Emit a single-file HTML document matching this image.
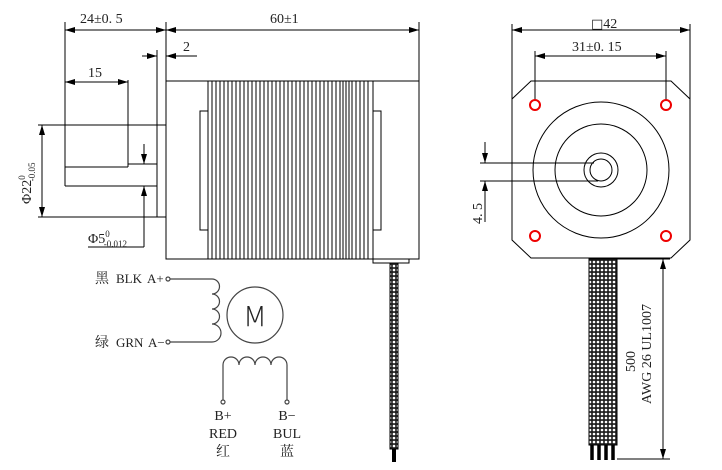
<!DOCTYPE html>
<html><head><meta charset="utf-8"><style>
body{margin:0;background:#fff}
svg{display:block}
text{font-family:"Liberation Serif","Noto Serif CJK SC",serif;font-size:14px;fill:#222}
</style></head><body>
<svg width="722" height="470" viewBox="0 0 722 470" xmlns="http://www.w3.org/2000/svg">
<defs>
<marker id="a" markerWidth="10" markerHeight="6" refX="10" refY="3" orient="auto-start-reverse" markerUnits="userSpaceOnUse"><path d="M0,0L10,3L0,6z" fill="#000"/></marker>
<pattern id="braid" width="4" height="4" patternUnits="userSpaceOnUse"><rect width="4" height="4" fill="#222"/><circle cx="2" cy="2" r="1.3" fill="#fff"/></pattern>
</defs>
<g stroke="#000" stroke-width="1" fill="none">
<line x1="65" y1="22" x2="65" y2="186"/>
<line x1="166" y1="22" x2="166" y2="259"/>
<line x1="419" y1="22" x2="419" y2="259"/>
<line x1="65" y1="30" x2="166" y2="30" marker-start="url(#a)" marker-end="url(#a)"/>
<line x1="166" y1="30" x2="419" y2="30" marker-start="url(#a)" marker-end="url(#a)"/>
<line x1="157" y1="50" x2="157" y2="217"/>
<line x1="142" y1="56" x2="157" y2="56" marker-end="url(#a)"/>
<line x1="197" y1="56" x2="166" y2="56" marker-end="url(#a)"/>
<line x1="65" y1="82" x2="128" y2="82" marker-start="url(#a)" marker-end="url(#a)"/>
<line x1="128" y1="80" x2="128" y2="167"/>
<line x1="65" y1="167" x2="128" y2="167"/>
<line x1="128" y1="164" x2="157" y2="164"/>
<line x1="65" y1="186" x2="157" y2="186"/>
<line x1="38" y1="125" x2="166" y2="125"/>
<line x1="38" y1="217" x2="166" y2="217"/>
<line x1="42" y1="125" x2="42" y2="217" marker-start="url(#a)" marker-end="url(#a)"/>
<line x1="144" y1="144" x2="144" y2="164" marker-end="url(#a)"/>
<line x1="144" y1="247" x2="144" y2="186" marker-end="url(#a)"/>
<line x1="88" y1="247" x2="144" y2="247"/>
<rect x="166" y="81" width="253" height="178"/>
<rect x="200" y="111" width="8" height="119"/>
<rect x="373" y="111" width="8" height="119"/>
<path d="M208,81V259M212,81V259M216,81V259M220,81V259M224,81V259M228,81V259M232,81V259M236,81V259M240,81V259M244,81V259M248,81V259M252,81V259M256,81V259M260,81V259M264,81V259M268,81V259M272,81V259M276,81V259M280,81V259M284,81V259M288,81V259M292,81V259M296,81V259M300,81V259M304,81V259M308,81V259M312,81V259M316,81V259M320,81V259M324,81V259M328,81V259M332,81V259M336,81V259M340,81V259M343,81V259M346,81V259M349,81V259M352,81V259M356,81V259M360,81V259M364,81V259M368,81V259M373,81V259"/>
<rect x="373" y="259" width="36" height="4"/>
</g>
<rect x="390" y="263" width="8" height="186" fill="url(#braid)" stroke="#000"/>
<rect x="392" y="449" width="4" height="13" fill="#000"/>
<text x="80" y="23">24±0. 5</text>
<text x="270" y="23">60±1</text>
<text x="183" y="51">2</text>
<text x="88" y="77">15</text>
<text transform="translate(31,204) rotate(-90)">Φ22<tspan style="font-size:9px" dy="-6">0</tspan><tspan style="font-size:9px" dx="-6" dy="10">-0.05</tspan></text>
<text x="88" y="243">Φ5<tspan style="font-size:9px" dy="-6">0</tspan><tspan style="font-size:9px" dx="-6" dy="10">-0.012</tspan></text>
<g stroke="#000" stroke-width="1" fill="none">
<line x1="512" y1="24" x2="512" y2="99"/>
<line x1="690" y1="24" x2="690" y2="99"/>
<line x1="512" y1="30" x2="690" y2="30" marker-start="url(#a)" marker-end="url(#a)"/>
<line x1="535" y1="51" x2="535" y2="105"/>
<line x1="666" y1="51" x2="666" y2="105"/>
<line x1="535" y1="56" x2="666" y2="56" marker-start="url(#a)" marker-end="url(#a)"/>
<path d="M531,81H671L690,99V240L671,258H531L512,240V99Z"/>
<circle cx="601" cy="170" r="68"/>
<circle cx="601" cy="170" r="46"/>
<circle cx="601" cy="170" r="17"/>
<circle cx="601" cy="170" r="11"/>
<line x1="480" y1="163" x2="594" y2="163"/>
<line x1="480" y1="181" x2="598" y2="181"/>
<line x1="485" y1="142" x2="485" y2="163" marker-end="url(#a)"/>
<line x1="485" y1="222" x2="485" y2="181" marker-end="url(#a)"/>
<line x1="617" y1="259" x2="670" y2="259"/>
<line x1="617" y1="459" x2="670" y2="459"/>
<line x1="663" y1="259" x2="663" y2="459" marker-start="url(#a)" marker-end="url(#a)"/>
</g>
<g fill="#fff" stroke="#e00" stroke-width="2">
<circle cx="535" cy="105" r="5"/><circle cx="666" cy="105" r="5"/><circle cx="535" cy="236" r="5"/><circle cx="666" cy="236" r="5"/>
</g>
<rect x="589" y="259" width="28" height="186" fill="url(#braid)" stroke="#000"/>
<path d="M592,445v15M599,445v15M606,445v15M613,445v15" stroke="#000" stroke-width="3.5"/>
<text x="591" y="28"><tspan style="font-family:'DejaVu Sans';font-size:13px">□</tspan>42</text>
<text x="572" y="51">31±0. 15</text>
<text transform="translate(482,224) rotate(-90)">4. 5</text>
<text transform="translate(635,372) rotate(-90)">500</text>
<text transform="translate(651,404) rotate(-90)">AWG 26 UL1007</text>
<g stroke="#444" stroke-width="1.2" fill="none">
<path d="M170,279H212a7,7 0 0 1 0,15a7,7 0 0 1 0,15a7,7 0 0 1 0,15a7,7 0 0 1 0,18H170"/>
<path d="M223,400V365a8,8 0 0 1 16,0a8,8 0 0 1 16,0a8,8 0 0 1 16,0a8,8 0 0 1 16,0V400"/>
<circle cx="255" cy="315" r="28"/>
<circle cx="168" cy="279" r="2"/><circle cx="168" cy="342" r="2"/>
<circle cx="223" cy="402" r="2"/><circle cx="287" cy="402" r="2"/>
</g>
<text x="255" y="326" text-anchor="middle" style="font-family:'DejaVu Sans',sans-serif;font-size:28px;font-weight:200">M</text>
<text x="95" y="283">黑</text><text x="116" y="283" style="font-size:13px">BLK</text><text x="147" y="283" style="font-size:13px">A+</text>
<text x="95" y="347">绿</text><text x="116" y="347" style="font-size:13px">GRN</text><text x="148" y="347" style="font-size:13px">A−</text>
<text x="223" y="420" text-anchor="middle">B+</text>
<text x="223" y="438" text-anchor="middle">RED</text>
<text x="223" y="456" text-anchor="middle">红</text>
<text x="287" y="420" text-anchor="middle">B−</text>
<text x="287" y="438" text-anchor="middle">BUL</text>
<text x="287" y="456" text-anchor="middle">蓝</text>
</svg>
</body></html>
